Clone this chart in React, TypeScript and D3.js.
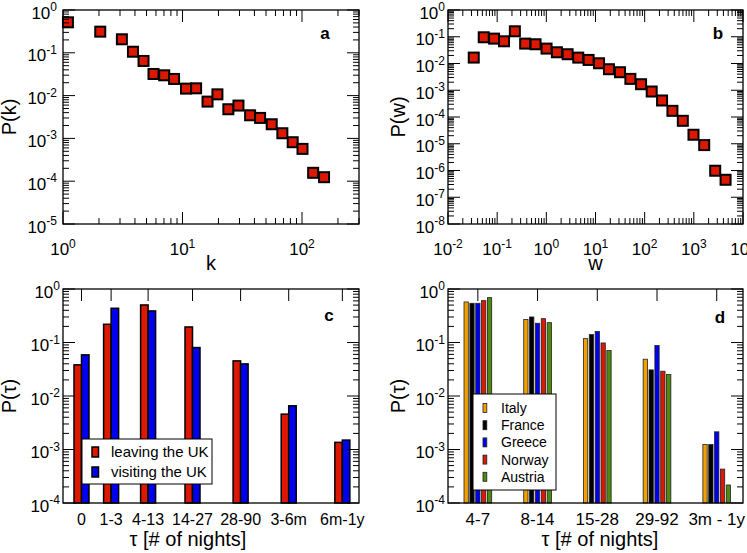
import React from 'react';
import * as d3 from 'd3';

const FONT = "'Liberation Sans', Arial, Helvetica, sans-serif";

// Panel a: degree distribution
const kVals = [1.1, 2.05, 3.11, 3.85, 4.72, 5.72, 7.03, 8.5, 10.7, 13, 16.2, 19.6, 24.2, 29.4, 36.8, 44.6, 55.8, 68.5, 83.6, 101, 124, 153];
const pkVals = [0.515, 0.312, 0.207, 0.106, 0.0645, 0.032, 0.0298, 0.0245, 0.01456, 0.0148, 0.00724, 0.0107, 0.0048, 0.00585, 0.00347, 0.00301, 0.00214, 0.00132, 0.000814, 0.000569, 0.000157, 0.000124];

// Panel b: weight distribution
const wVals = [0.0334, 0.0533, 0.0866, 0.138, 0.229, 0.371, 0.603, 1.01, 1.64, 2.71, 4.46, 7.24, 11.8, 18.8, 31.5, 51.2, 84.5, 139, 226, 367, 597, 984, 1625, 2720, 4420];
const pwVals = [0.01665, 0.0955, 0.0852, 0.0677, 0.16, 0.0554, 0.0524, 0.0361, 0.0263, 0.0222, 0.0166, 0.0136, 0.0102, 0.00611, 0.00472, 0.00266, 0.00168, 0.000897, 0.000414, 0.00017, 7.2e-5, 2.17e-5, 8.9e-6, 9.8e-7, 4.5e-7];

// Panel c
const catsC = ['0', '1-3', '4-13', '14-27', '28-90', '3-6m', '6m-1y'];
const catPosC = [0.5, 1.3, 2.3, 3.5, 4.8, 6.1, 7.55];
const leavingUK = [0.0382, 0.219, 0.503, 0.195, 0.0453, 0.00458, 0.00136];
const visitingUK = [0.0587, 0.436, 0.389, 0.0804, 0.0398, 0.00655, 0.0015];
const seriesC = ['leaving the UK', 'visiting the UK'];

// Panel d
const catsD = ['4-7', '8-14', '15-28', '29-92', '3m - 1y'];
const italy = [0.572, 0.268, 0.118, 0.0487, 0.00124];
const france = [0.541, 0.3, 0.1405, 0.0308, 0.00124];
const greece = [0.541, 0.229, 0.16, 0.0876, 0.00214];
const norway = [0.606, 0.279, 0.098, 0.0291, 0.00043];
const austria = [0.689, 0.235, 0.0707, 0.0252, 0.000217];
const countries = ['Italy', 'France', 'Greece', 'Norway', 'Austria'];

const RED = '#dd1800';
const BLUE = '#0000f0';
const ORANGE = '#f0a000';
const GREEN = '#4f8a10';
const countryColors = [ORANGE, '#000000', BLUE, RED, GREEN];

type Box = { x0: number; x1: number; y0: number; y1: number };

function logTicks(domain: [number, number]) {
  const [a, b] = domain;
  const e0 = Math.floor(Math.log10(a) + 1e-9);
  const e1 = Math.ceil(Math.log10(b) - 1e-9);
  const major: { v: number; e: number }[] = [];
  const minor: number[] = [];
  for (let e = e0; e <= e1; e++) {
    for (let k = 1; k <= 9; k++) {
      const v = k * Math.pow(10, e);
      if (v < a * 0.999 || v > b * 1.001) continue;
      if (k === 1) major.push({ v, e });
      else minor.push(v);
    }
  }
  return { major, minor };
}

const MAJ = 12;
const MIN = 6;

function Pow({ x, y, e, anchor }: { x: number; y: number; e: number; anchor: string }) {
  return (
    <text x={x} y={y} textAnchor={anchor} fontSize={17} fontFamily={FONT}>
      <tspan>10</tspan>
      <tspan dy={-7.5} fontSize={12}>{String(e)}</tspan>
    </text>
  );
}

function LogYAxis({ box, scale, domain, gap }: { box: Box; scale: any; domain: [number, number]; gap: number }) {
  const { major, minor } = logTicks(domain);
  return (
    <g>
      {minor.map((v, i) => (
        <g key={'m' + i}>
          <line x1={box.x0} x2={box.x0 + MIN} y1={scale(v)} y2={scale(v)} stroke="#000" strokeWidth={1} />
          <line x1={box.x1} x2={box.x1 - MIN} y1={scale(v)} y2={scale(v)} stroke="#000" strokeWidth={1} />
        </g>
      ))}
      {major.map((t, i) => (
        <g key={'M' + i}>
          <line x1={box.x0} x2={box.x0 + MAJ} y1={scale(t.v)} y2={scale(t.v)} stroke="#000" strokeWidth={1} />
          <line x1={box.x1} x2={box.x1 - MAJ} y1={scale(t.v)} y2={scale(t.v)} stroke="#000" strokeWidth={1} />
          <Pow x={box.x0 - gap} y={scale(t.v) + 8.5} e={t.e} anchor="end" />
        </g>
      ))}
    </g>
  );
}

function LogXAxis({ box, scale, domain }: { box: Box; scale: any; domain: [number, number] }) {
  const { major, minor } = logTicks(domain);
  return (
    <g>
      {minor.map((v, i) => (
        <g key={'m' + i}>
          <line y1={box.y1} y2={box.y1 - MIN} x1={scale(v)} x2={scale(v)} stroke="#000" strokeWidth={1} />
          <line y1={box.y0} y2={box.y0 + MIN} x1={scale(v)} x2={scale(v)} stroke="#000" strokeWidth={1} />
        </g>
      ))}
      {major.map((t, i) => (
        <g key={'M' + i}>
          <line y1={box.y1} y2={box.y1 - MAJ} x1={scale(t.v)} x2={scale(t.v)} stroke="#000" strokeWidth={1} />
          <line y1={box.y0} y2={box.y0 + MAJ} x1={scale(t.v)} x2={scale(t.v)} stroke="#000" strokeWidth={1} />
          <Pow x={scale(t.v)} y={box.y1 + 31} e={t.e} anchor="middle" />
        </g>
      ))}
    </g>
  );
}

function Frame({ box }: { box: Box }) {
  return <rect x={box.x0} y={box.y0} width={box.x1 - box.x0} height={box.y1 - box.y0} fill="none" stroke="#000" strokeWidth={1.3} />;
}

function YTitle({ x, y, children }: { x: number; y: number; children: any }) {
  return (
    <text transform={`translate(${x},${y}) rotate(-90)`} textAnchor="middle" fontSize={20} fontFamily={FONT}>
      {children}
    </text>
  );
}

function Letter({ x, y, t }: { x: number; y: number; t: string }) {
  return (
    <text x={x} y={y} textAnchor="middle" fontSize={17} fontWeight="bold" fontFamily={FONT}>{t}</text>
  );
}

function Markers({ xs, ys, sx, sy }: { xs: number[]; ys: number[]; sx: any; sy: any }) {
  return (
    <g>
      {xs.map((x, i) => (
        <rect key={i} x={sx(x) - 5} y={sy(ys[i]) - 5} width={10} height={10} fill={RED} stroke="#000" strokeWidth={2} />
      ))}
    </g>
  );
}

function PanelA() {
  const box: Box = { x0: 63, x1: 359, y0: 10, y1: 224 };
  const xd: [number, number] = [1, 300];
  const yd: [number, number] = [1e-5, 1];
  const sx = d3.scaleLog().domain(xd).range([box.x0, box.x1]);
  const sy = d3.scaleLog().domain(yd).range([box.y1, box.y0]);
  return (
    <g>
      <Markers xs={kVals} ys={pkVals} sx={sx} sy={sy} />
      <LogYAxis box={box} scale={sy} domain={yd} gap={6} />
      <LogXAxis box={box} scale={sx} domain={xd} />
      <Frame box={box} />
      <Letter x={325} y={39} t="a" />
      <text x={(box.x0 + box.x1) / 2} y={270} textAnchor="middle" fontSize={20} fontFamily={FONT}>k</text>
      <YTitle x={16} y={117}>P(k)</YTitle>
    </g>
  );
}

function PanelB() {
  const box: Box = { x0: 448, x1: 743, y0: 10, y1: 224 };
  const xd: [number, number] = [1e-2, 1e4];
  const yd: [number, number] = [1e-8, 1];
  const sx = d3.scaleLog().domain(xd).range([box.x0, box.x1]);
  const sy = d3.scaleLog().domain(yd).range([box.y1, box.y0]);
  return (
    <g>
      <Markers xs={wVals} ys={pwVals} sx={sx} sy={sy} />
      <LogYAxis box={box} scale={sy} domain={yd} gap={3} />
      <LogXAxis box={box} scale={sx} domain={xd} />
      <Frame box={box} />
      <Letter x={718} y={39} t="b" />
      <text x={(box.x0 + box.x1) / 2} y={270} textAnchor="middle" fontSize={20} fontFamily={FONT}>w</text>
      <YTitle x={405} y={117}>P(w)</YTitle>
    </g>
  );
}

function CatTicks({ box, xs }: { box: Box; xs: number[] }) {
  return (
    <g>
      {xs.map((x, i) => (
        <g key={i}>
          <line x1={x} x2={x} y1={box.y0} y2={box.y0 + MAJ} stroke="#000" strokeWidth={1} />
          <line x1={x} x2={x} y1={box.y1} y2={box.y1 - MAJ} stroke="#000" strokeWidth={1} />
        </g>
      ))}
    </g>
  );
}

function PanelC() {
  const box: Box = { x0: 63, x1: 359, y0: 289, y1: 503 };
  const yd: [number, number] = [1e-4, 1];
  const sx = d3.scaleLinear().domain([0, 8]).range([box.x0, box.x1]);
  const sy = d3.scaleLog().domain(yd).range([box.y1, box.y0]);
  const bw = 7.5;
  const series = [leavingUK, visitingUK];
  const colors = [RED, BLUE];
  return (
    <g>
      <CatTicks box={box} xs={catPosC.map((p) => sx(p))} />
      {series.map((s, si) => (
        <g key={si}>
          {s.map((v, i) => {
            const cx = sx(catPosC[i]);
            const x = si === 0 ? cx - bw : cx;
            return <rect key={i} x={x} y={sy(v)} width={bw} height={box.y1 - sy(v)} fill={colors[si]} stroke="#000" strokeWidth={1.5} />;
          })}
        </g>
      ))}
      <LogYAxis box={box} scale={sy} domain={yd} gap={3} />
      <Frame box={box} />
      {catsC.map((c, i) => (
        <text key={i} x={sx(catPosC[i])} y={525} textAnchor="middle" fontSize={16} fontFamily={FONT}>{c}</text>
      ))}
      <g>
        <rect x={82} y={439} width={130} height={45} fill="#fff" stroke="#000" strokeWidth={1} />
        {seriesC.map((name, i) => (
          <g key={i}>
            <rect x={92} y={447 + i * 20} width={6.5} height={10} fill={colors[i]} stroke="#000" strokeWidth={1.5} />
            <text x={111} y={457 + i * 20} fontSize={15} fontFamily={FONT}>{name}</text>
          </g>
        ))}
      </g>
      <Letter x={329} y={321} t="c" />
      <text x={188} y={546} textAnchor="middle" fontSize={20} fontFamily={FONT}>τ [# of nights]</text>
      <YTitle x={16} y={396}>P(τ)</YTitle>
    </g>
  );
}

function PanelD() {
  const box: Box = { x0: 448, x1: 743, y0: 289, y1: 503 };
  const yd: [number, number] = [1e-4, 1];
  const sx = d3.scaleLinear().domain([0.5, 5.44]).range([box.x0, box.x1]);
  const sy = d3.scaleLog().domain(yd).range([box.y1, box.y0]);
  const series = [italy, france, greece, norway, austria];
  const bw = 4.3;
  const step = 5.85;
  return (
    <g>
      <CatTicks box={box} xs={catsD.map((_, i) => sx(i + 1))} />
      {series.map((s, si) => (
        <g key={si}>
          {s.map((v, i) => {
            const cx = sx(i + 1) + (si - 2) * step;
            return <rect key={i} x={cx - bw / 2} y={sy(v)} width={bw} height={box.y1 - sy(v)} fill={countryColors[si]} stroke="#222" strokeWidth={0.8} />;
          })}
        </g>
      ))}
      <LogYAxis box={box} scale={sy} domain={yd} gap={3} />
      <Frame box={box} />
      {catsD.map((c, i) => (
        <text key={i} x={sx(i + 1)} y={525} textAnchor="middle" fontSize={17} fontFamily={FONT}>{c}</text>
      ))}
      <g>
        <rect x={473} y={394} width={83} height={96} fill="#fff" stroke="#000" strokeWidth={1} />
        {countries.map((name, i) => (
          <g key={i}>
            <rect x={483} y={403.5 + i * 17.2} width={3.8} height={9} fill={countryColors[i]} stroke="#222" strokeWidth={0.8} />
            <text x={501} y={413 + i * 17.2} fontSize={14} fontFamily={FONT}>{name}</text>
          </g>
        ))}
      </g>
      <Letter x={720} y={323} t="d" />
      <text x={600} y={546} textAnchor="middle" fontSize={20} fontFamily={FONT}>τ [# of nights]</text>
      <YTitle x={405} y={396}>P(τ)</YTitle>
    </g>
  );
}

export default function App() {
  return (
    <svg width={747} height={553} style={{ position: 'absolute', left: 0, top: 0, background: '#fff' }}>
      <rect x={0} y={0} width={747} height={553} fill="#fff" />
      <PanelA />
      <PanelB />
      <PanelC />
      <PanelD />
    </svg>
  );
}
